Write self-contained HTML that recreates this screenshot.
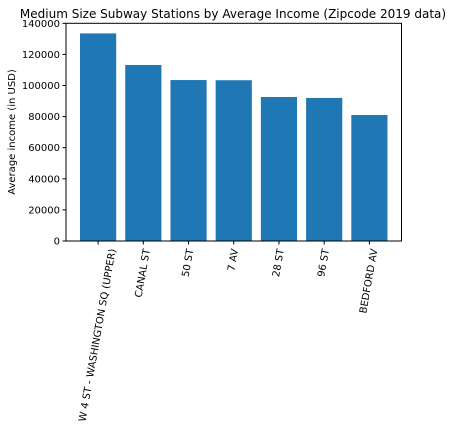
<!DOCTYPE html>
<html><head><meta charset="utf-8"><style>
body{margin:0;background:#fff}
svg{display:block;font-family:"DejaVu Sans","Liberation Sans",sans-serif}
</style></head><body>
<svg id="chart" width="454" height="428" viewBox="0 0 454 428">
<rect x="0" y="0" width="454" height="428" fill="#fff"/>
<text x="233" y="18" font-size="12" text-anchor="middle" fill="#000">Medium Size Subway Stations by Average Income (Zipcode 2019 data)</text>
<text transform="translate(15,132) rotate(-90)" font-size="10" text-anchor="middle" fill="#000">Average income (in USD)</text>
<g id="bars"></g><g id="yticks"></g><g id="xticks"></g>
<rect x="66" y="23.3" width="335.5" height="217.7" fill="none" stroke="#000" stroke-width="1"/>
</svg>
<script>
const categories=["W 4 ST - WASHINGTON SQ (UPPER)","CANAL ST","50 ST","7 AV","28 ST","96 ST","BEDFORD AV"];
const values=[133500,113200,103500,103400,92600,92000,81000];
const yTicks=[0,20000,40000,60000,80000,100000,120000,140000];
const L=66,R=401.5,T=23.3,B=241,ymax=140000;
const xmin=-0.71,xmax=6.71;
function x(i){return L+(i-xmin)/(xmax-xmin)*(R-L);}
function y(v){return B-v/ymax*(B-T);}
const ns="http://www.w3.org/2000/svg";
const bw=(x(0.8)-x(0));
const gb=document.getElementById('bars'),gy=document.getElementById('yticks'),gx=document.getElementById('xticks');
values.forEach((v,i)=>{const r=document.createElementNS(ns,'rect');
r.setAttribute('x',x(i)-bw/2);r.setAttribute('y',y(v));r.setAttribute('width',bw);r.setAttribute('height',B-y(v));r.setAttribute('fill','#1f77b4');


gb.appendChild(r);});
yTicks.forEach(t=>{const l=document.createElementNS(ns,'line');
l.setAttribute('x1',L-3.5);l.setAttribute('x2',L);l.setAttribute('y1',y(t));l.setAttribute('y2',y(t));l.setAttribute('stroke','#000');


gy.appendChild(l);
const tx=document.createElementNS(ns,'text');tx.setAttribute('x',L-6);tx.setAttribute('y',y(t)+3.5);tx.setAttribute('font-size','10');tx.setAttribute('text-anchor','end');tx.textContent=t;


gy.appendChild(tx);});
const c80=Math.cos(80*Math.PI/180);
categories.forEach((c,i)=>{const l=document.createElementNS(ns,'line');
l.setAttribute('x1',x(i));l.setAttribute('x2',x(i));l.setAttribute('y1',B);l.setAttribute('y2',B+3.5);l.setAttribute('stroke','#000');


gx.appendChild(l);
const tx=document.createElementNS(ns,'text');
tx.setAttribute('font-size','10');tx.setAttribute('text-anchor','end');tx.setAttribute('dominant-baseline','central');tx.textContent=c;


gx.appendChild(tx);
const len=tx.getComputedTextLength();
tx.setAttribute('transform','translate('+(x(i)+len*c80/2)+','+(B+8)+') rotate(-80)');});
</script>
</body></html>
